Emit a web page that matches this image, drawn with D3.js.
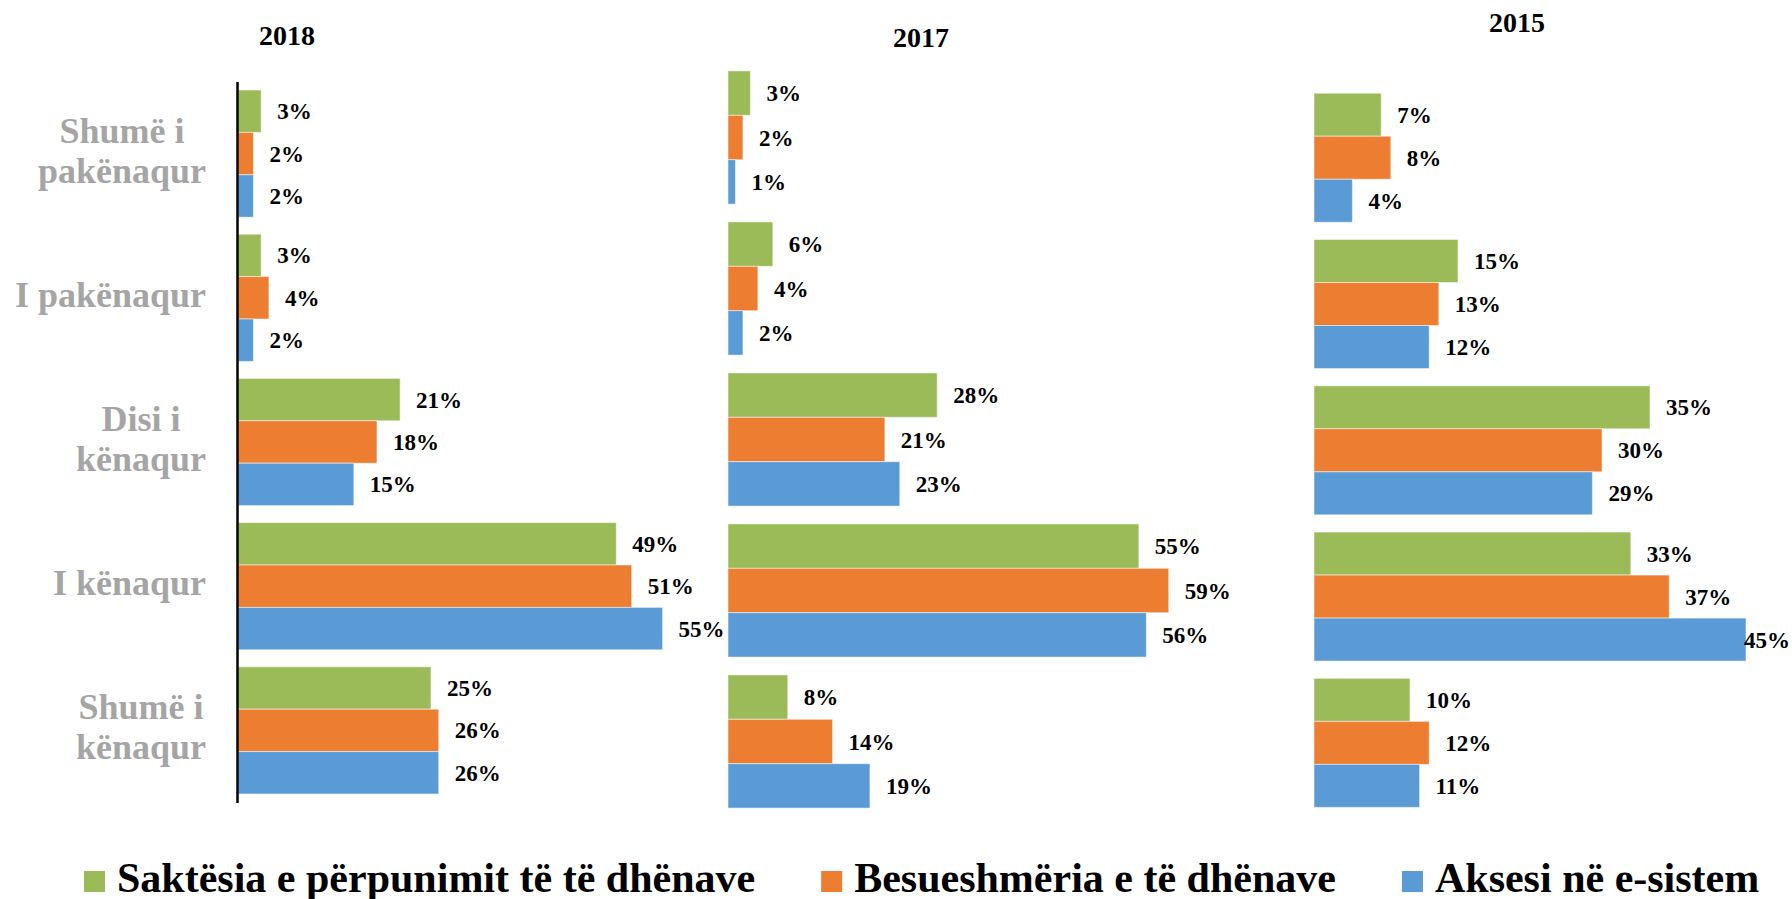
<!DOCTYPE html>
<html>
<head>
<meta charset="utf-8">
<script src="https://cdnjs.cloudflare.com/ajax/libs/d3/7.8.5/d3.min.js"></script>
<style>
  body { margin: 0; background: #fff; }
</style>
</head>
<body>
<div id="chart"></div>
<script>
// Data
const categoryLines = [["Shumë i", "pakënaqur"], ["I pakënaqur"], ["Disi i", "kënaqur"], ["I kënaqur"], ["Shumë i", "kënaqur"]];
const seriesNames = ["Saktësia e përpunimit të të dhënave", "Besueshmëria e të dhënave", "Aksesi në e-sistem"];
const years = ["2018", "2017", "2015"];

const sakt2018 = [3, 3, 21, 49, 25];
const besu2018 = [2, 4, 18, 51, 26];
const akse2018 = [2, 2, 15, 55, 26];

const sakt2017 = [3, 6, 28, 55, 8];
const besu2017 = [2, 4, 21, 59, 14];
const akse2017 = [1, 2, 23, 56, 19];

const sakt2015 = [7, 15, 35, 33, 10];
const besu2015 = [8, 13, 30, 37, 12];
const akse2015 = [4, 12, 29, 45, 11];

const yearValues = [
    [sakt2018, besu2018, akse2018],
    [sakt2017, besu2017, akse2017],
    [sakt2015, besu2015, akse2015]
];

const colors = ["#9BBB59", "#ED7D31", "#5B9BD5"];
const FONT = "'Liberation Serif', 'DejaVu Serif', 'Times New Roman', serif";

// Layout of the three pasted panels
const W = 1792, H = 899;
const panels = [
    {x0: 238, pxPerPct: 7.72, y: [81.5, 802.5], titleX: 287, titleY: 45, axis: true},
    {x0: 728, pxPerPct: 7.47, y: [62, 817], titleX: 921, titleY: 47, axis: false},
    {x0: 1314, pxPerPct: 9.6, y: [84.6, 816], titleX: 1517, titleY: 32, axis: false}
];

const svg = d3.select("#chart").append("svg")
    .attr("width", W)
    .attr("height", H)
    .style("display", "block")
    .style("font-family", FONT);

panels.forEach((p, pi) => {
    const x = d3.scaleLinear().domain([0, 60]).range([p.x0, p.x0 + 60 * p.pxPerPct]);
    const y = d3.scaleBand().domain(d3.range(categoryLines.length)).range(p.y)
        .paddingInner(0.118).paddingOuter(0.059);
    const ySub = d3.scaleBand().domain(d3.range(seriesNames.length)).range([0, y.bandwidth()]);

    const g = svg.append("g");

    // bars
    yearValues[pi].forEach((vals, si) => {
        g.selectAll(null)
            .data(vals)
            .join("rect")
            .attr("x", x(0))
            .attr("y", (d, i) => y(i) + ySub(si))
            .attr("width", d => x(d) - x(0))
            .attr("height", ySub.bandwidth())
            .attr("fill", colors[si])
            .attr("stroke", "#ffffff")
            .attr("stroke-opacity", 0.5)
            .attr("stroke-width", 1);

        g.selectAll(null)
            .data(vals)
            .join("text")
            .attr("x", d => x(d) + 16)
            .attr("y", (d, i) => y(i) + ySub(si) + ySub.bandwidth() / 2)
            .attr("dy", "0.35em")
            .attr("font-family", FONT)
            .attr("font-size", 23)
            .attr("font-weight", "bold")
            .attr("fill", "#000")
            .text(d => d + "%")
            .each(function() {
                const el = d3.select(this);
                const w = this.getComputedTextLength();
                const xx = +el.attr("x");
                if (xx + w > W - 2) el.attr("x", W - 2 - w);
            });
    });

    // vertical axis (only first panel)
    if (p.axis) {
        const ax = g.append("g")
            .attr("transform", `translate(${p.x0 - 1},0)`)
            .call(d3.axisLeft(y).tickSize(0).tickFormat(""));
        ax.select(".domain").attr("stroke", "#000").attr("stroke-width", 2.5);

        // category labels: lines centred in a block, block right-aligned
        const lab = g.selectAll(".cat")
            .data(categoryLines)
            .join("text")
            .attr("class", "cat")
            .attr("text-anchor", "middle")
            .attr("font-family", FONT)
            .attr("font-size", 36)
            .attr("font-weight", "bold")
            .attr("fill", "#A5A5A5");
        lab.each(function(lines, i) {
            const cy = y(i) + y.bandwidth() / 2 + 9;
            const t = d3.select(this);
            const spans = lines.map((ln, li) => t.append("tspan")
                .attr("y", cy + (li - (lines.length - 1) / 2) * 40)
                .text(ln));
            const maxW = d3.max(spans, s => s.node().getComputedTextLength());
            spans.forEach(s => s.attr("x", 206 - maxW / 2));
        });
    }

    // title
    svg.append("text")
        .attr("x", p.titleX)
        .attr("y", p.titleY)
        .attr("text-anchor", "middle")
        .attr("font-family", FONT)
        .attr("font-size", 28)
        .attr("font-weight", "bold")
        .text(years[pi]);
});

// Legend
const legend = svg.append("g");
let lx = 84;
seriesNames.forEach((name, i) => {
    legend.append("rect")
        .attr("x", lx)
        .attr("y", 871)
        .attr("width", 21)
        .attr("height", 21)
        .attr("fill", colors[i]);
    const t = legend.append("text")
        .attr("x", lx + 33)
        .attr("y", 892)
        .attr("font-family", FONT)
        .attr("font-size", 42)
        .attr("font-weight", "bold")
        .text(name);
    lx = lx + 33 + t.node().getComputedTextLength() + 66;
});
</script>
</body>
</html>
